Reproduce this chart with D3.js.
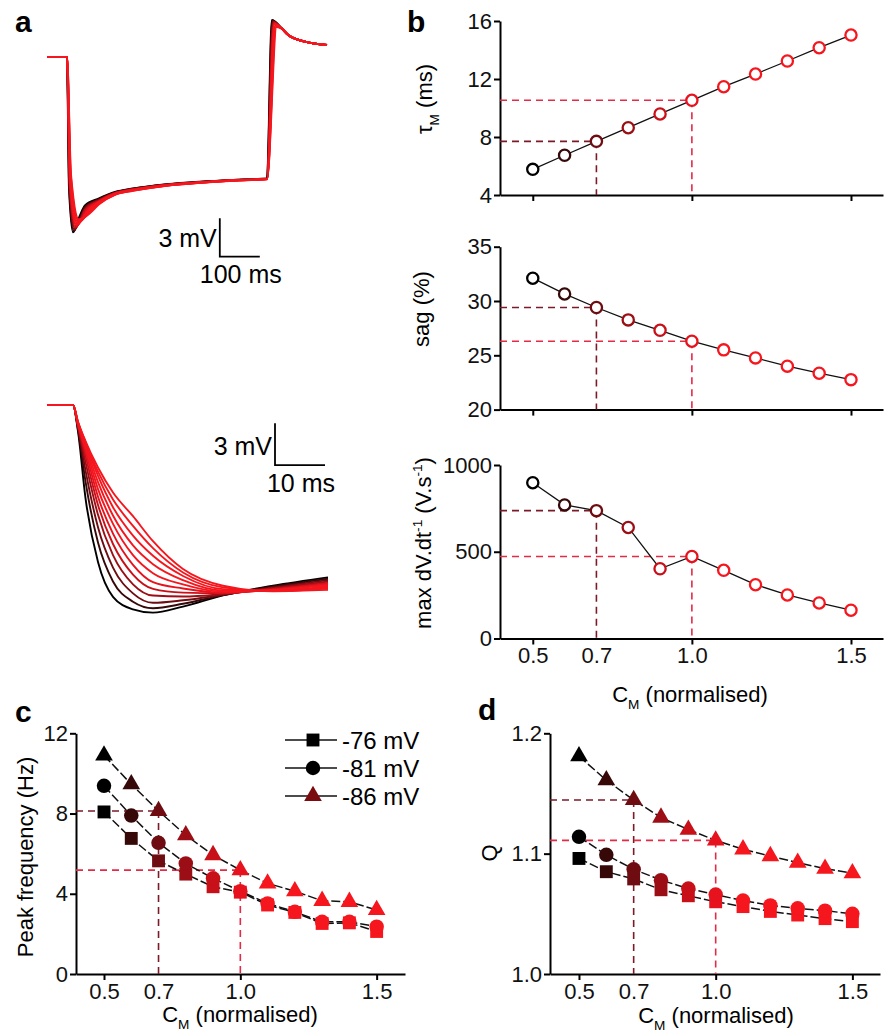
<!DOCTYPE html>
<html>
<head>
<meta charset="utf-8">
<script src="https://cdn.jsdelivr.net/npm/d3@7"></script>
<style>
  html, body { margin: 0; padding: 0; background: #fff; }
  svg { display: block; }
</style>
</head>
<body>
<script>
// ---------- data ----------
const cm = [0.5, 0.6, 0.7, 0.8, 0.9, 1.0, 1.1, 1.2, 1.3, 1.4, 1.5];
const markedCm = [0.7, 1.0];

// panel b
const tauM = [5.77, 6.74, 7.70, 8.64, 9.59, 10.53, 11.47, 12.34, 13.24, 14.16, 15.03];
const sagPct = [32.1, 30.65, 29.4, 28.26, 27.3, 26.3, 25.5, 24.76, 24.0, 23.35, 22.76];
const maxDvdt = [898, 770, 737, 640, 402, 473, 393, 310, 251, 205, 163];

// panel c (Hz)
const freq76 = [8.08, 6.76, 5.64, 4.98, 4.35, 4.08, 3.44, 3.07, 2.52, 2.55, 2.12];
const freq81 = [9.38, 7.90, 6.54, 5.51, 4.77, 4.13, 3.52, 3.10, 2.60, 2.60, 2.36];
const freq86 = [10.9, 9.46, 8.13, 6.92, 5.93, 5.18, 4.52, 4.13, 3.65, 3.60, 3.19];

// panel d (Q)
const q76 = [1.096, 1.085, 1.079, 1.070, 1.065, 1.060, 1.056, 1.052, 1.049, 1.046, 1.0435];
const q81 = [1.114, 1.099, 1.087, 1.078, 1.071, 1.066, 1.061, 1.057, 1.0546, 1.0526, 1.050];
const q86 = [1.181, 1.161, 1.1446, 1.130, 1.120, 1.111, 1.1036, 1.098, 1.0925, 1.0875, 1.0837];

const seriesNames = ["-76 mV", "-81 mV", "-86 mV"];

// panel a, top: [ms, mV] per trace (one trace per C_M value)
const topLead = [[-50, 0], [0, 0]];
const topTail = [[537, 2.22], [553, 1.72], [595, 1.2], [650, 0.94]];
const topTraces = [
  [[5, -10.2], [15, -13.7], [32, -12.4], [45, -11.6], [80, -11.05], [120, -10.55], [165, -10.28], [250, -9.94], [332, -9.74], [415, -9.6], [500, -9.5], [512, 2.9]],
  [[5.5, -10.1], [16.5, -13.6], [33, -12.5], [45, -11.7], [80, -11.1], [120, -10.58], [165, -10.3], [250, -9.96], [332, -9.76], [415, -9.61], [500, -9.51], [513, 2.85]],
  [[6, -10.0], [18, -13.5], [34, -12.55], [45, -11.8], [80, -11.15], [120, -10.6], [165, -10.32], [250, -9.97], [332, -9.77], [415, -9.62], [500, -9.52], [514.5, 2.79]],
  [[6.5, -9.9], [19.5, -13.4], [35, -12.6], [45, -11.9], [80, -11.2], [120, -10.62], [165, -10.34], [250, -9.98], [332, -9.78], [415, -9.62], [500, -9.52], [515.5, 2.73]],
  [[7, -9.8], [21, -13.3], [36, -12.65], [45, -12.0], [80, -11.25], [120, -10.64], [165, -10.36], [250, -9.99], [332, -9.79], [415, -9.63], [500, -9.53], [517, 2.68]],
  [[7.5, -9.7], [22.5, -13.2], [37, -12.7], [47, -12.1], [80, -11.3], [120, -10.66], [165, -10.37], [250, -10.0], [332, -9.8], [415, -9.63], [500, -9.53], [518, 2.62]],
  [[8, -9.6], [24, -13.1], [38, -12.7], [49, -12.15], [80, -11.34], [120, -10.68], [165, -10.39], [250, -10.01], [332, -9.81], [415, -9.64], [500, -9.53], [519, 2.57]],
  [[8.5, -9.5], [25.5, -13.0], [39, -12.7], [51, -12.2], [80, -11.38], [120, -10.7], [165, -10.4], [250, -10.02], [332, -9.81], [415, -9.64], [500, -9.54], [520.5, 2.51]],
  [[9, -9.4], [27, -12.9], [40, -12.65], [53, -12.2], [80, -11.42], [120, -10.72], [165, -10.42], [250, -10.03], [332, -9.82], [415, -9.65], [500, -9.54], [521.5, 2.46]],
  [[9.5, -9.3], [28.5, -12.8], [41, -12.6], [55, -12.2], [80, -11.46], [120, -10.74], [165, -10.44], [250, -10.04], [332, -9.82], [415, -9.65], [500, -9.55], [522.5, 2.4]],
  [[10, -9.2], [30, -12.7], [42, -12.55], [57, -12.2], [80, -11.5], [120, -10.76], [165, -10.45], [250, -10.05], [332, -9.83], [415, -9.66], [500, -9.55], [524, 2.35]],
];

// panel a, bottom: onset of the same traces, mV at these times (ms)
const botTimes = [0, 1, 2.5, 5, 8, 12, 16, 22, 30, 40, 51];
const botTraces = [
  [0, -1.9, -6.7, -11.3, -13.8, -14.7, -14.94, -14.5, -13.7, -13.0, -12.4],
  [0, -1.75, -5.5, -9.9, -12.7, -14.15, -14.62, -14.3, -13.68, -13.06, -12.5],
  [0, -1.63, -4.7, -8.8, -11.7, -13.55, -14.23, -14.05, -13.65, -13.12, -12.6],
  [0, -1.54, -4.1, -7.9, -10.8, -12.9, -13.71, -13.78, -13.6, -13.18, -12.7],
  [0, -1.47, -3.65, -7.2, -10.0, -12.2, -13.23, -13.5, -13.55, -13.24, -12.8],
  [0, -1.41, -3.3, -6.6, -9.25, -11.5, -12.75, -13.2, -13.5, -13.28, -12.88],
  [0, -1.36, -3.05, -6.05, -8.55, -10.8, -12.1, -12.9, -13.42, -13.32, -12.96],
  [0, -1.31, -2.88, -5.55, -7.95, -10.1, -11.45, -12.6, -13.35, -13.35, -13.04],
  [0, -1.27, -2.76, -5.1, -7.35, -9.4, -10.85, -12.3, -13.25, -13.37, -13.12],
  [0, -1.23, -2.67, -4.8, -6.8, -8.7, -10.3, -12.05, -13.12, -13.39, -13.2],
  [0, -1.2, -2.6, -4.5, -6.3, -8.0, -9.8, -11.8, -13.0, -13.4, -13.3],
];

// ---------- setup ----------
const FONT = "Arial, 'Liberation Sans', Helvetica, sans-serif";
const svg = d3.select("body").append("svg")
  .attr("width", 891).attr("height", 1035)
  .style("font-family", FONT);
svg.append("rect").attr("width", 891).attr("height", 1035).attr("fill", "#fff");

const shade = d3.scaleLinear()
  .domain([0.5, 0.6, 0.7, 0.8, 0.9, 1.0, 1.1])
  .range(["#000000", "#360808", "#6e0c12", "#9c0e15", "#c81019", "#e6121d", "#f5161e"])
  .clamp(true);
const dashColor = { 0.7: "#7c1a28", 1.0: "#e62a45" };

function richText(parent, parts, size) {
  let shift = 0;
  parts.forEach(([s, kind]) => {
    const target = kind === "sub" ? size * 0.32 : kind === "sup" ? -size * 0.42 : 0;
    parent.append("tspan")
      .attr("dy", target - shift)
      .style("font-size", (kind ? size * 0.62 : size) + "px")
      .text(s);
    shift = target;
  });
}

function panelLetter(s, x, y) {
  svg.append("text").attr("x", x).attr("y", y)
    .attr("font-weight", "bold").style("font-size", "30px").text(s);
}

function styleAxis(g) {
  g.attr("font-size", null).attr("font-family", null);
  g.select(".domain").attr("stroke", "#000").attr("stroke-width", 2);
  g.selectAll(".tick line").attr("stroke", "#000").attr("stroke-width", 2);
  g.selectAll(".tick text").attr("fill", "#111").style("font-size", "22px");
}

function drawAxes(x, y, yTicks, yFmt, withLabels) {
  const gx = svg.append("g")
    .attr("transform", `translate(0,${y.range()[0]})`)
    .call(d3.axisBottom(x)
      .tickValues(withLabels ? [0.5, 0.7, 1.0, 1.5] : [0.5, 1.0, 1.5])
      .tickSize(6).tickSizeOuter(0).tickPadding(3)
      .tickFormat(withLabels ? d3.format(".1f") : ""));
  gx.selectAll(".tick").filter((d) => d === 0.7).select("line").remove();
  styleAxis(gx);
  const gy = svg.append("g")
    .attr("transform", `translate(${x.range()[0]},0)`)
    .call(d3.axisLeft(y).tickValues(yTicks).tickSize(6).tickSizeOuter(0).tickPadding(2).tickFormat(yFmt));
  styleAxis(gy);
}

function yTitle(parts, x, y) {
  const t = svg.append("text")
    .attr("transform", `translate(${x},${y}) rotate(-90)`)
    .attr("text-anchor", "middle");
  richText(t, parts, 22);
}

function xTitle(x, y) {
  const t = svg.append("text").attr("x", x).attr("y", y).attr("text-anchor", "middle");
  richText(t, [["C"], ["M", "sub"], [" (normalised)"]], 22);
}

function refLines(x, y, values) {
  markedCm.forEach((m) => {
    const v = values[cm.indexOf(m)];
    const g = svg.append("g")
      .attr("stroke", dashColor[m]).attr("stroke-width", 1.6)
      .attr("stroke-dasharray", "7,5").attr("fill", "none");
    g.append("line").attr("x1", x.range()[0]).attr("x2", x(m)).attr("y1", y(v)).attr("y2", y(v));
    g.append("line").attr("x1", x(m)).attr("x2", x(m)).attr("y1", y(v)).attr("y2", y.range()[0]);
  });
}

// ---------- panel a ----------
panelLetter("a", 15, 32);

const xTop = d3.scaleLinear().domain([-50, 650]).range([47, 327]);
const yTop = d3.scaleLinear().domain([0, -14]).range([57, 236.2]);
const lineTop = d3.line().x((d) => xTop(d[0])).y((d) => yTop(d[1])).curve(d3.curveMonotoneX);

svg.append("g").selectAll("path")
  .data(topTraces)
  .join("path")
  .attr("fill", "none")
  .attr("stroke", (d, i) => shade(cm[i]))
  .attr("stroke-width", 2)
  .attr("d", (d) => lineTop(topLead.concat(d, topTail)));

// scale bar 3 mV / 100 ms
{
  const x0 = xTop(382), y0 = yTop(-15.6);
  svg.append("path").attr("fill", "none").attr("stroke", "#000").attr("stroke-width", 1.8)
    .attr("d", `M${x0},${yTop(-12.6)}V${y0}H${xTop(482)}`);
  svg.append("text").attr("x", x0 - 3).attr("y", 247).attr("text-anchor", "end")
    .style("font-size", "25px").text("3 mV");
  svg.append("text").attr("x", (x0 + xTop(482)) / 2 + 1).attr("y", 283).attr("text-anchor", "middle")
    .style("font-size", "25px").text("100 ms");
}

const xBot = d3.scaleLinear().domain([-5.2, 50.8]).range([47, 327]);
const yBot = d3.scaleLinear().domain([0, -15]).range([405, 613.5]);
const lineBot = d3.line().x((d) => xBot(d[0])).y((d) => yBot(d[1])).curve(d3.curveMonotoneX);

svg.append("g").selectAll("path")
  .data(botTraces)
  .join("path")
  .attr("fill", "none")
  .attr("stroke", (d, i) => shade(cm[i]))
  .attr("stroke-width", 1.9)
  .attr("d", (d) => lineBot([[-5.2, 0]].concat(botTimes.map((t, j) => [t, d[j]]))));

// scale bar 3 mV / 10 ms
{
  const x0 = xBot(40.4), y0 = yBot(-4.32);
  svg.append("path").attr("fill", "none").attr("stroke", "#000").attr("stroke-width", 1.8)
    .attr("d", `M${x0},${yBot(-1.32)}V${y0}H${xBot(50.4)}`);
  svg.append("text").attr("x", x0 - 3).attr("y", 455).attr("text-anchor", "end")
    .style("font-size", "25px").text("3 mV");
  svg.append("text").attr("x", (x0 + xBot(50.4)) / 2 + 1).attr("y", 492).attr("text-anchor", "middle")
    .style("font-size", "25px").text("10 ms");
}

// ---------- panel b ----------
panelLetter("b", 407, 32);
const xB = d3.scaleLinear().domain([0.397, 1.6006]).range([500, 883]);

function circleChart(values, y, yTicks, yFmt, withLabels) {
  drawAxes(xB, y, yTicks, yFmt, withLabels);
  refLines(xB, y, values);
  svg.append("path")
    .attr("fill", "none").attr("stroke", "#111").attr("stroke-width", 1.3)
    .attr("d", d3.line().x((d, i) => xB(cm[i])).y((d) => y(d))(values));
  svg.append("g").selectAll("circle")
    .data(values)
    .join("circle")
    .attr("cx", (d, i) => xB(cm[i]))
    .attr("cy", (d) => y(d))
    .attr("r", 5.6)
    .attr("fill", "#fff")
    .attr("stroke", (d, i) => shade(cm[i]))
    .attr("stroke-width", 2.3);
}

const yTau = d3.scaleLinear().domain([4, 16]).range([195, 21]);
circleChart(tauM, yTau, [4, 8, 12, 16], d3.format("d"), false);
yTitle([["τ"], ["M", "sub"], [" (ms)"]], 432, 99);

const ySag = d3.scaleLinear().domain([20, 35]).range([409.6, 246.7]);
circleChart(sagPct, ySag, [20, 25, 30, 35], d3.format("d"), false);
yTitle([["sag (%)"]], 429, 309);

const yDv = d3.scaleLinear().domain([0, 1000]).range([638.5, 465]);
circleChart(maxDvdt, yDv, [0, 500, 1000], d3.format("d"), true);
yTitle([["max dV.dt"], ["-1", "sup"], [" (V.s"], ["-1", "sup"], [")"]], 431, 543);
xTitle(690, 702);

// ---------- panels c, d ----------
const symbols = [d3.symbolSquare, d3.symbolCircle, d3.symbolTriangle];
const symbolSizes = [166, 165, 135];

function markerChart(x, y, seriesList) {
  refLines(x, y, seriesList[2]);
  seriesList.forEach((vals) => {
    svg.append("path")
      .attr("fill", "none").attr("stroke", "#111").attr("stroke-width", 1.5)
      .attr("stroke-dasharray", "9,3")
      .attr("d", d3.line().x((d, i) => x(cm[i])).y((d) => y(d))(vals));
  });
  seriesList.forEach((vals, s) => {
    svg.append("g").selectAll("path")
      .data(vals)
      .join("path")
      .attr("transform", (d, i) => `translate(${x(cm[i])},${y(d)})`)
      .attr("d", d3.symbol(symbols[s], symbolSizes[s]))
      .attr("fill", (d, i) => shade(cm[i]));
  });
}

panelLetter("c", 15, 722);
const xC = d3.scaleLinear().domain([0.3973, 1.604]).range([76, 405]);
const yC = d3.scaleLinear().domain([0, 12]).range([974, 733.3]);
drawAxes(xC, yC, [0, 4, 8, 12], d3.format("d"), true);
markerChart(xC, yC, [freq76, freq81, freq86]);
yTitle([["Peak frequency (Hz)"]], 33, 857);
xTitle(240, 1022);

// legend
{
  const legendColors = ["#000", "#000", "#7a0c10"];
  seriesNames.forEach((name, s) => {
    const yy = [740, 768, 796][s];
    svg.append("line").attr("x1", 285).attr("x2", 337).attr("y1", yy).attr("y2", yy)
      .attr("stroke", "#111").attr("stroke-width", 1.5);
    svg.append("path").attr("transform", `translate(313,${yy})`)
      .attr("d", d3.symbol(symbols[s], symbolSizes[s]))
      .attr("fill", legendColors[s]);
    svg.append("text").attr("x", 342).attr("y", yy).attr("dy", "0.36em")
      .style("font-size", "24px").text(name);
  });
}

panelLetter("d", 478, 720);
const xD = d3.scaleLinear().domain([0.394, 1.601]).range([550, 880]);
const yD = d3.scaleLinear().domain([1.0, 1.2]).range([974, 733.3]);
drawAxes(xD, yD, [1.0, 1.1, 1.2], d3.format(".1f"), true);
markerChart(xD, yD, [q76, q81, q86]);
yTitle([["Q"]], 497, 853);
xTitle(716, 1023);
</script>
</body>
</html>
